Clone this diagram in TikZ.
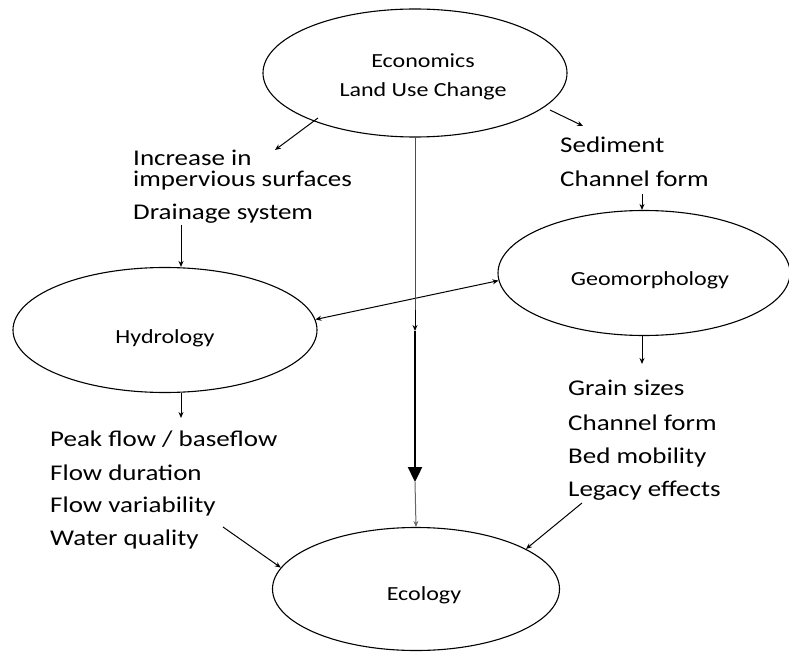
\documentclass[tikz,border=0pt]{standalone}
\usepackage{fontspec}
\setmainfont[FakeStretch=1.2]{Carlito}
\usetikzlibrary{shapes.geometric,arrows.meta}
\begin{document}
\begin{tikzpicture}[x=1pt,y=-1pt,
  blob/.style={draw,ellipse,line width=1.1pt,inner sep=0pt},
  blobtext/.style={anchor=base,inner sep=0pt,font=\fontsize{20}{24}\selectfont},
  item/.style={anchor=base west,inner sep=0pt,font=\fontsize{22.5}{27}\selectfont},
  link/.style={line width=1pt,-{Stealth[length=6pt,width=5pt]}},
  twoway/.style={line width=1pt,{Stealth[length=6pt,width=5pt]}-{Stealth[length=6pt,width=5pt]}},
  bold/.style={line width=2.4pt,-{Triangle[length=15pt,width=14pt]}}]
\useasboundingbox (0,0) rectangle (789,652);

% the four ellipses
\node[blob,minimum width=304pt,minimum height=128pt] (econ) at (415,73) {};
\node[blob,minimum width=304pt,minimum height=125pt] (hyd) at (165,330) {};
\node[blob,minimum width=292pt,minimum height=125pt] (geo) at (644,273) {};
\node[blob,minimum width=287pt,minimum height=123pt] (eco) at (416,589) {};

\node[blobtext] (econA) at (423,68) {Economics};
\node[blobtext] (econB) at (423,97) {Land Use Change};
\node[blobtext] (hydT) at (165,343) {Hydrology};
\node[blobtext] (geoT) at (650,285) {Geomorphology};
\node[blobtext] (ecoT) at (424,600) {Ecology};

% lists of drivers and responses
\node[item] (inc1) at (133,166) {Increase in};
\node[item] (inc2) at (133,187) {impervious surfaces};
\node[item] (drain) at (133,220) {Drainage system};

\node[item] (sed) at (560,153) {Sediment};
\node[item] (chan1) at (560,187) {Channel form};

\node[item] (peak) at (50,446) {Peak flow / baseflow};
\node[item] (dur) at (50,480) {Flow duration};
\node[item] (var) at (50,512) {Flow variability};
\node[item] (wq) at (50,545) {Water quality};

\node[item] (grain) at (568,395) {Grain sizes};
\node[item] (chan2) at (568,430) {Channel form};
\node[item] (bed) at (568,463) {Bed mobility};
\node[item] (leg) at (568,496) {Legacy effects};

% connector end points
\coordinate (econL) at (318,118);
\coordinate (incTop) at (275,150);
\coordinate (econR) at (550,110);
\coordinate (sedTop) at (583,126);
\coordinate (drainBot) at (181,225);
\coordinate (chanBot) at (642,194);
\coordinate (peakTop) at (181,418);
\coordinate (grainTop) at (642,364);
\coordinate (wqEnd) at (223,527);
\coordinate (legEnd) at (582,503);
\coordinate (midA) at (415,310);
\coordinate (midB) at (415,331);
\coordinate (midC) at (415,482);

% connectors
\draw[link] (econL) -- (incTop);
\draw[link] (econR) -- (sedTop);
\draw[link] (drainBot) -- (drainBot |- hyd.north);
\draw[link] (chanBot) -- (chanBot |- geo.north);
\draw[link] (peakTop |- hyd.south) -- (peakTop);
\draw[link] (grainTop |- geo.south) -- (grainTop);
\draw[twoway] (hyd.4) -- (geo.183);
\draw[link] (wqEnd) -- (eco.171);
\draw[link] (legEnd) -- (eco.20);

\draw[line width=1pt,draw=black!70] (econ.south) -- (midA);
\draw[link] (midA) -- (midB);
\draw[bold] (midB) -- (midC);
\draw[link,draw=black!60] (midC) -- (eco.north);
\end{tikzpicture}
\end{document}
